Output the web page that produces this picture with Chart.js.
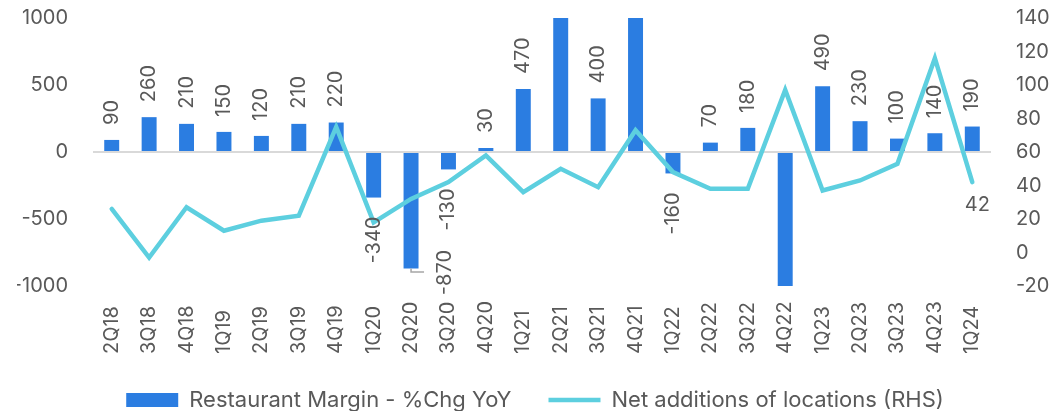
<!DOCTYPE html>
<html>
<head>
<meta charset="utf-8">
<script src="https://cdn.jsdelivr.net/npm/chart.js@4.4.1/dist/chart.umd.min.js"></script>
<style>
    html, body { margin: 0; padding: 0; background: #fff; }
    #wrap { width: 1053px; height: 411px; position: relative; }
</style>
</head>
<body>
<div id="wrap"><canvas id="marginChart"></canvas></div>
<script>
// Data
const quarters = ['2Q18', '3Q18', '4Q18', '1Q19', '2Q19', '3Q19', '4Q19', '1Q20', '2Q20', '3Q20', '4Q20', '1Q21',
    '2Q21', '3Q21', '4Q21', '1Q22', '2Q22', '3Q22', '4Q22', '1Q23', '2Q23', '3Q23', '4Q23', '1Q24'];
// 2Q21, 4Q21 and 4Q22 run off the axis in the original (no label shown)
const marginChg = [90, 260, 210, 150, 120, 210, 220, -340, -870, -130, 30, 470,
    1300, 400, 1250, -160, 70, 180, -1250, 490, 230, 100, 140, 190];
const netAdditions = [26, -3, 27, 13, 19, 22, 75, 18, 32, 42, 58, 36,
    50, 39, 73, 48, 38, 38, 97, 37, 43, 53, 116, 42];
const leftTicks = { min: -1000, max: 1000, step: 500 };
const rightTicks = { min: -20, max: 140, step: 20 };

const FONT = 'Inter, "Noto Sans", sans-serif';
const TEXT_COLOR = '#595959';
const BAR_COLOR = '#2B7DE1';
const LINE_COLOR = '#5DCFDF';

// Value labels on the bars and on the last line point
const valueLabels = {
    id: 'valueLabels',
    afterDatasetsDraw(chart) {
        const ctx = chart.ctx;
        const area = chart.chartArea;
        const y = chart.scales.y;
        const x = chart.scales.x;
        const step = x.getPixelForValue(1) - x.getPixelForValue(0);
        ctx.save();
        ctx.font = '20px ' + FONT;
        ctx.fillStyle = TEXT_COLOR;
        ctx.textBaseline = 'middle';

        chart.getDatasetMeta(0).data.forEach((bar, i) => {
            const v = marginChg[i];
            if (v > y.max || v < y.min) return;
            const text = String(v);
            const w = ctx.measureText(text).width;
            ctx.save();
            if (v >= 0) {
                ctx.translate(bar.x, bar.y - 15);
                ctx.rotate(-Math.PI / 2);
                ctx.textAlign = 'left';
                ctx.fillText(text, 0, 0);
            } else if (bar.y + 19 + w <= area.bottom + 12) {
                ctx.translate(bar.x, bar.y + 19);
                ctx.rotate(-Math.PI / 2);
                ctx.textAlign = 'right';
                ctx.fillText(text, 0, 0);
            } else {
                // no room below the bar: move it beside, with a small leader
                ctx.strokeStyle = '#A6A6A6';
                ctx.lineWidth = 1.5;
                ctx.beginPath();
                ctx.moveTo(bar.x, bar.y);
                ctx.lineTo(bar.x, bar.y + 3.5);
                ctx.lineTo(bar.x + 13, bar.y + 3.5);
                ctx.stroke();
                ctx.translate(bar.x + step * 0.9, bar.y + 4);
                ctx.rotate(-Math.PI / 2);
                ctx.textAlign = 'center';
                ctx.fillText(text, 0, 0);
            }
            ctx.restore();
        });

        const pts = chart.getDatasetMeta(1).data;
        const last = pts[pts.length - 1];
        ctx.textAlign = 'center';
        ctx.fillText(String(netAdditions[netAdditions.length - 1]), last.x + 5, last.y + 23);
        ctx.restore();
    }
};

// Category labels, rotated and aligned at their start like the original
const quarterLabels = {
    id: 'quarterLabels',
    afterDraw(chart) {
        const ctx = chart.ctx;
        const x = chart.scales.x;
        const baseY = chart.chartArea.bottom + 68;
        ctx.save();
        ctx.font = '20px ' + FONT;
        ctx.fillStyle = TEXT_COLOR;
        ctx.textBaseline = 'middle';
        ctx.textAlign = 'left';
        quarters.forEach((q, i) => {
            ctx.save();
            ctx.translate(x.getPixelForTick(i), baseY);
            ctx.rotate(-Math.PI / 2);
            ctx.fillText(q, 0, 0);
            ctx.restore();
        });
        ctx.restore();
    }
};

const tickFont = { family: FONT, size: 20 };
const plainTick = (v) => String(v);

// fixed axis sizes so the plot area lands where it does in the original
function fitSide(width) {
    return (scale) => {
        scale.width = width;
        scale.paddingTop = 18;
        scale.paddingBottom = 12;
    };
}

new Chart(document.getElementById('marginChart'), {
    data: {
        labels: quarters,
        datasets: [{
            type: 'bar',
            label: 'Restaurant Margin - %Chg YoY',
            data: marginChg,
            yAxisID: 'y',
            backgroundColor: BAR_COLOR,
            borderWidth: 0,
            barPercentage: 0.4,
            categoryPercentage: 1,
            pointStyle: 'rect',
            order: 2
        }, {
            type: 'line',
            label: 'Net additions of locations (RHS)',
            data: netAdditions,
            yAxisID: 'y1',
            borderColor: LINE_COLOR,
            backgroundColor: LINE_COLOR,
            borderWidth: 4.5,
            borderCapStyle: 'round',
            pointRadius: 0,
            pointStyle: 'line',
            tension: 0,
            order: 1
        }]
    },
    options: {
        responsive: true,
        maintainAspectRatio: false,
        animation: false,
        // left padding nudges the legend right; the left axis is narrowed to match
        layout: { padding: { top: 6, left: 17, right: 0, bottom: 0 } },
        plugins: {
            tooltip: { enabled: false },
            legend: {
                position: 'bottom',
                maxHeight: 59,
                labels: {
                    sort: (a, b) => a.datasetIndex - b.datasetIndex,
                    usePointStyle: true,
                    pointStyleWidth: 52,
                    boxHeight: 14,
                    padding: 37,
                    color: TEXT_COLOR,
                    font: { family: FONT, size: 22 }
                }
            }
        },
        scales: {
            x: {
                grid: { display: false },
                border: { display: false },
                ticks: { display: false, autoSkip: false },
                afterFit: (scale) => { scale.height = 66; }
            },
            y: {
                position: 'left',
                min: leftTicks.min,
                max: leftTicks.max,
                border: { display: false },
                grid: {
                    drawTicks: false,
                    lineWidth: 2,
                    color: (c) => (c.tick && c.tick.value === 0 ? '#D9D9D9' : 'rgba(0,0,0,0)')
                },
                ticks: {
                    stepSize: leftTicks.step,
                    color: TEXT_COLOR,
                    font: tickFont,
                    padding: 25,
                    callback: plainTick
                },
                afterFit: fitSide(76)
            },
            y1: {
                position: 'right',
                min: rightTicks.min,
                max: rightTicks.max,
                border: { display: false },
                grid: { display: false, drawTicks: false },
                ticks: {
                    stepSize: rightTicks.step,
                    color: TEXT_COLOR,
                    font: tickFont,
                    padding: 25,
                    callback: plainTick
                },
                afterFit: fitSide(62)
            }
        }
    },
    plugins: [valueLabels, quarterLabels]
});
</script>
</body>
</html>
